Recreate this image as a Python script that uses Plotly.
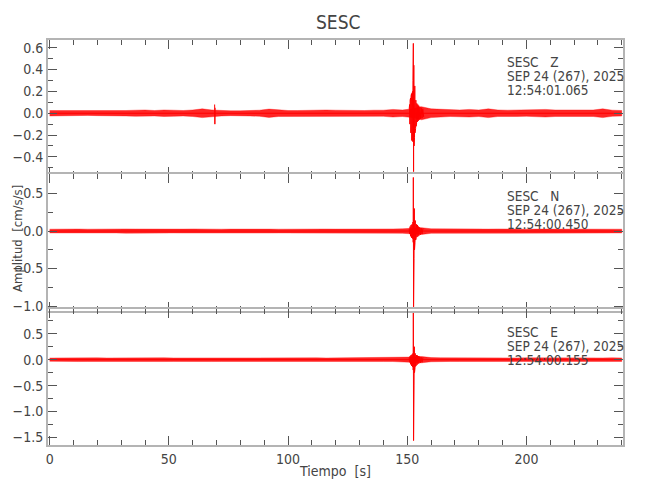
import plotly.graph_objects as go
from plotly.subplots import make_subplots

# ---------------- data ----------------
components = ["Z", "N", "E"]
start_times = ["12:54:01.065", "12:54:00.450", "12:54:00.155"]
station = "SESC"
date_label = "SEP 24 (267), 2025"

# background-noise envelope (half-width, cm/s/s) every 4 s, 0..240 s
env_t = list(range(0, 241, 4))
env_z = [0.025, 0.025, 0.022, 0.022, 0.020, 0.022, 0.020, 0.022, 0.025, 0.028,
         0.030, 0.025, 0.030, 0.028, 0.025, 0.030, 0.040, 0.030, 0.025, 0.022,
         0.022, 0.025, 0.028, 0.038, 0.030, 0.025, 0.025, 0.028, 0.025, 0.030,
         0.028, 0.025, 0.025, 0.025, 0.028, 0.028, 0.035, 0.030, 0.040, 0.060,
         0.040, 0.035, 0.030, 0.030, 0.035, 0.030, 0.040, 0.030, 0.028, 0.030,
         0.028, 0.030, 0.035, 0.030, 0.030, 0.028, 0.030, 0.030, 0.040, 0.028,
         0.025]
env_n = [0.025, 0.028, 0.025, 0.027, 0.025, 0.028, 0.026, 0.025, 0.028, 0.027,
         0.025, 0.028, 0.027, 0.025, 0.026, 0.028, 0.025, 0.027, 0.025, 0.026,
         0.028, 0.025, 0.027, 0.026, 0.025, 0.027, 0.025, 0.026, 0.025, 0.027,
         0.026, 0.025, 0.027, 0.025, 0.026, 0.027, 0.028, 0.030, 0.035, 0.045,
         0.030, 0.028, 0.026, 0.025, 0.027, 0.025, 0.026, 0.028, 0.025, 0.027,
         0.025, 0.026, 0.025, 0.027, 0.025, 0.026, 0.025, 0.027, 0.026, 0.025,
         0.025]
env_e = [0.032, 0.035, 0.033, 0.036, 0.034, 0.035, 0.033, 0.036, 0.034, 0.033,
         0.035, 0.034, 0.036, 0.033, 0.034, 0.035, 0.033, 0.036, 0.034, 0.033,
         0.035, 0.034, 0.033, 0.035, 0.034, 0.036, 0.033, 0.034, 0.035, 0.033,
         0.034, 0.035, 0.033, 0.034, 0.035, 0.036, 0.036, 0.040, 0.050, 0.060,
         0.040, 0.036, 0.034, 0.035, 0.033, 0.036, 0.034, 0.035, 0.033, 0.034,
         0.035, 0.033, 0.034, 0.036, 0.033, 0.034, 0.035, 0.033, 0.034, 0.035,
         0.033]

# event waveform peaks (time s, amplitude cm/s/s)
ev_t_z = [150.8, 150.9, 151.0, 151.1, 151.2, 151.3, 151.4, 151.5, 151.6, 151.7,
          151.8, 151.9, 152.0, 152.1, 152.2, 152.3, 152.4, 152.5, 152.55, 152.65,
          152.75, 152.85, 152.95, 153.05, 153.15, 153.25, 153.35, 153.5, 153.6,
          153.7, 153.8, 153.9, 154.0, 154.2, 154.4, 154.6, 154.8, 155.0, 155.3,
          155.6, 155.9, 156.2, 156.5, 156.9]
ev_a_z = [0.04, -0.05, 0.08, -0.10, 0.12, -0.15, 0.14, -0.18, 0.16, -0.22,
          0.18, -0.25, 0.17, -0.24, 0.20, -0.26, 0.30, -0.30, 0.64, -0.535,
          0.44, -0.30, 0.35, -0.22, 0.25, -0.18, 0.15, -0.14, 0.12,
          -0.12, 0.10, -0.10, 0.09, -0.08, 0.08, -0.07, 0.07, -0.06, 0.06,
          -0.05, 0.05, -0.045, 0.04, -0.035]

ev_t_n = [150.8, 151.0, 151.2, 151.4, 151.6, 151.8, 152.0, 152.2, 152.4, 152.5,
          152.55, 152.65, 152.75, 152.85, 152.95, 153.05, 153.15, 153.25, 153.35,
          153.5, 153.6, 153.75, 153.9, 154.1, 154.3, 154.5, 154.7, 154.9, 155.2,
          155.5, 155.8, 156.2, 156.6]
ev_a_n = [0.03, -0.04, 0.06, -0.07, 0.08, -0.09, 0.09, -0.10, 0.12, -0.15,
          0.714, -1.01, 0.42, -0.37, 0.30, -0.25, 0.20, -0.15, 0.14,
          -0.12, 0.10, -0.10, 0.09, -0.08, 0.08, -0.07, 0.06, -0.06, 0.05,
          -0.05, 0.04, -0.04, 0.035]

ev_t_e = [150.8, 151.0, 151.2, 151.4, 151.6, 151.8, 152.0, 152.2, 152.4, 152.5,
          152.55, 152.65, 152.75, 152.85, 152.95, 153.05, 153.15, 153.25, 153.35,
          153.5, 153.6, 153.75, 153.9, 154.1, 154.3, 154.5, 154.7, 154.9, 155.2,
          155.5, 155.8, 156.2, 156.6]
ev_a_e = [0.04, -0.05, 0.07, -0.09, 0.09, -0.12, 0.10, -0.14, 0.12, -0.20,
          0.90, -1.56, 0.35, -0.49, 0.25, -0.25, 0.18, -0.16, 0.12,
          -0.13, 0.10, -0.12, 0.09, -0.10, 0.08, -0.08, 0.07, -0.07, 0.06,
          -0.06, 0.05, -0.05, 0.045]

# isolated spike on Z near 69 s
spike_t_z = [69.2, 69.3, 69.4]
spike_a_z = [0.08, -0.10, 0.05]

# axis settings per panel
y_ranges = [[-0.575, 0.671], [-1.065, 0.76], [-1.645, 0.977]]
y_dticks = [0.2, 0.5, 0.5]
y_minor = [0.1, 0.25, 0.25]
x_range = [-0.7, 240.5]

# ---------------- figure ----------------
RED = "#ff0000"
FONT = "DejaVu Sans Condensed, Liberation Sans Narrow, Arial Narrow, sans-serif"
TXT = "#444444"
OFF = 8  # the page body adds an 8 px margin around the figure

fig = make_subplots(rows=3, cols=1, vertical_spacing=0)

envs = [env_z, env_n, env_e]
events = [(ev_t_z, ev_a_z), (ev_t_n, ev_a_n), (ev_t_e, ev_a_e)]

for i in range(3):
    env = envs[i]
    bx = env_t + env_t[::-1]
    by = [a for a in env] + [-a for a in env[::-1]]
    fig.add_trace(go.Scatter(x=bx, y=by, fill="toself", mode="lines",
                             line=dict(width=0.6, color="rgba(255,0,0,0.6)"),
                             fillcolor="rgba(255,0,0,0.85)",
                             hoverinfo="skip", showlegend=False), row=i + 1, col=1)
    fig.add_trace(go.Scatter(x=env_t, y=[0] * len(env_t), mode="lines",
                             line=dict(width=1, color=RED),
                             hoverinfo="skip", showlegend=False), row=i + 1, col=1)
    et, ea = events[i]
    fig.add_trace(go.Scatter(x=et, y=ea, mode="lines",
                             line=dict(width=1, color=RED),
                             showlegend=False), row=i + 1, col=1)

fig.add_trace(go.Scatter(x=spike_t_z, y=spike_a_z, mode="lines",
                         line=dict(width=1, color=RED), showlegend=False), row=1, col=1)

# plot area (page pixels): x 48..623, y 40..445; panel borders at ~175 and ~310
H = 405.0
W = 575.0
domains = [[(445 - 176) / H, 1.0],
           [(445 - 311) / H, (445 - 174) / H],
           [0.0, (445 - 309) / H]]
for i in range(3):
    r = i + 1
    fig.update_xaxes(row=r, col=1, range=x_range, dtick=50, tick0=0,
                     ticks="inside", ticklen=9, tickwidth=1, tickcolor="#555",
                     minor=dict(dtick=10, tick0=0, ticks="inside", ticklen=5,
                                tickcolor="#555", tickwidth=1),
                     showline=True, linecolor="#b4b4b4", linewidth=2, mirror="allticks",
                     showgrid=False, zeroline=False, automargin=False,
                     showticklabels=(r == 3),
                     tickfont=dict(family=FONT, size=14, color=TXT))
    fig.update_yaxes(row=r, col=1, range=y_ranges[i], dtick=y_dticks[i], tick0=0,
                     domain=domains[i], tickformat=".1f",
                     ticks="inside", ticklen=9, tickwidth=1, tickcolor="#555",
                     minor=dict(dtick=y_minor[i], tick0=0, ticks="inside", ticklen=5,
                                tickcolor="#555", tickwidth=1),
                     showline=True, linecolor="#b4b4b4", linewidth=2, mirror="allticks",
                     showgrid=False, zeroline=False, automargin=False,
                     ticklabelstandoff=0,
                     tickfont=dict(family=FONT, size=14, color=TXT))

annotations = []
# panel header labels
line_px = [[62, 76, 90], [196, 210, 224], [332, 346, 360]]
for i in range(3):
    texts = [station + "\u00a0\u00a0\u00a0" + components[i], date_label, start_times[i]]
    for k in range(3):
        annotations.append(dict(text=texts[k], xref="paper", yref="paper",
                                x=(505 - 48) / W, y=(445 - line_px[i][k]) / H,
                                xanchor="left", yanchor="middle", showarrow=False,
                                font=dict(family=FONT, size=13.5, color=TXT)))
annotations.append(dict(text=station, xref="paper", yref="paper",
                        x=(338 - 48) / W, y=(445 - 22) / H,
                        xanchor="center", yanchor="middle", showarrow=False,
                        font=dict(family=FONT, size=19, color=TXT)))
annotations.append(dict(text="Tiempo\u00a0\u00a0[s]", xref="paper", yref="paper",
                        x=(335 - 48) / W, y=(445 - 471) / H,
                        xanchor="center", yanchor="middle", showarrow=False,
                        font=dict(family=FONT, size=14, color=TXT)))
annotations.append(dict(text="Amplitud\u00a0\u00a0[cm/s/s]", xref="paper", yref="paper",
                        x=(17 - 48) / W, y=(445 - 239) / H, textangle=-90,
                        xanchor="center", yanchor="middle", showarrow=False,
                        font=dict(family=FONT, size=13, color=TXT)))

# figure is 642x492 drawn at page offset (8, 8):
# plot area from 40 to 615 (fig px) -> 48..623 on the page, 32 to 437 -> 40..445
fig.update_layout(width=650 - OFF, height=500 - OFF,
                  margin=dict(l=48 - OFF, r=27, t=40 - OFF, b=55),
                  paper_bgcolor="white", plot_bgcolor="white",
                  annotations=annotations, showlegend=False)

fig.write_html("out.html")
